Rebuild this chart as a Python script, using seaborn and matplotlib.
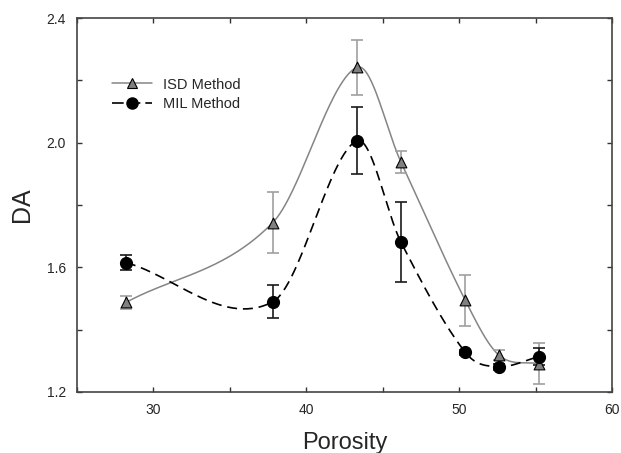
import numpy as np
import pandas as pd
import matplotlib
matplotlib.use("Agg")
import matplotlib.pyplot as plt
from matplotlib.ticker import MultipleLocator, FormatStrFormatter
import seaborn as sns

porosity = [28.2, 37.8, 43.3, 46.2, 50.4, 52.6, 55.2]
isd_da = [1.487, 1.743, 2.242, 1.937, 1.494, 1.318, 1.290]
isd_err = [0.020, 0.098, 0.088, 0.035, 0.082, 0.015, 0.066]
mil_da = [1.615, 1.489, 2.006, 1.680, 1.327, 1.281, 1.313]
mil_err = [0.023, 0.053, 0.108, 0.128, 0.008, 0.010, 0.027]


def smooth_curve(x, y, n=60):
    # cubic hermite through the points, catmull-rom style tangents
    x = np.asarray(x, float)
    y = np.asarray(y, float)
    m = np.empty_like(y)
    m[1:-1] = (y[2:] - y[:-2]) / (x[2:] - x[:-2])
    m[0] = (y[1] - y[0]) / (x[1] - x[0])
    m[-1] = (y[-1] - y[-2]) / (x[-1] - x[-2])
    xs, ys = [], []
    for i in range(len(x) - 1):
        h = x[i + 1] - x[i]
        t = np.linspace(0, 1, n)
        h00 = 2 * t**3 - 3 * t**2 + 1
        h10 = t**3 - 2 * t**2 + t
        h01 = -2 * t**3 + 3 * t**2
        h11 = t**3 - t**2
        xs.append(x[i] + t * h)
        ys.append(h00 * y[i] + h10 * h * m[i] + h01 * y[i + 1] + h11 * h * m[i + 1])
    return np.concatenate(xs), np.concatenate(ys)


sns.set_style("ticks")
plt.rcParams['font.family'] = ['Liberation Sans', 'DejaVu Sans']

fig = plt.figure(figsize=(6.21, 4.53), dpi=100)
ax = fig.add_axes([0.124, 0.135, 0.8615, 0.825])

xs, ys = smooth_curve(porosity, isd_da)
sx, sy = smooth_curve(porosity, mil_da)
isd_curve = pd.DataFrame({"x": xs, "y": ys})
mil_curve = pd.DataFrame({"x": sx, "y": sy})

sns.lineplot(data=isd_curve, x="x", y="y", ax=ax, color="#858585",
             linewidth=1.1, legend=False, sort=False)
sns.lineplot(data=mil_curve, x="x", y="y", ax=ax, color="black",
             linewidth=1.2, linestyle=(0, (6, 3.5)), legend=False, sort=False)

ax.errorbar(porosity, isd_da, yerr=isd_err, fmt="none", ecolor="#a0a0a0",
            elinewidth=1.2, capsize=4.5, capthick=1.2, zorder=3)
ax.errorbar(porosity, mil_da, yerr=mil_err, fmt="none", ecolor="#1a1a1a",
            elinewidth=1.2, capsize=4.5, capthick=1.2, zorder=3)

sns.scatterplot(x=porosity, y=isd_da, ax=ax, marker="^", s=60, color="#808080",
                edgecolor="black", linewidth=0.8, zorder=4)
sns.scatterplot(x=porosity, y=mil_da, ax=ax, marker="o", s=75, color="black",
                edgecolor="black", linewidth=0.8, zorder=4)

# legend handles
h1, = ax.plot([], [], color="#858585", linewidth=1.1, marker="^", markersize=7,
              markerfacecolor="#808080", markeredgecolor="black", markeredgewidth=0.8)
h2, = ax.plot([], [], color="black", linewidth=1.2, linestyle=(0, (7, 3)), marker="o",
              markersize=8, markerfacecolor="black", markeredgecolor="black")
ax.legend([h1, h2], ["ISD Method", "MIL Method"], loc="upper left",
          bbox_to_anchor=(0.04, 0.876), frameon=False, fontsize=10.5,
          handlelength=2.8, handletextpad=0.7, labelspacing=0.35)

ax.set_xlim(25, 60)
ax.set_ylim(1.2, 2.4)
ax.xaxis.set_major_locator(MultipleLocator(10))
ax.xaxis.set_minor_locator(MultipleLocator(5))
ax.yaxis.set_major_locator(MultipleLocator(0.4))
ax.yaxis.set_minor_locator(MultipleLocator(0.2))
ax.yaxis.set_major_formatter(FormatStrFormatter("%.1f"))
ax.tick_params(which="both", direction="in", top=True, right=True,
               color="#333333", width=1.0, labelsize=10, length=3.5)
ax.tick_params(which="major", pad=8)
for s in ax.spines.values():
    s.set_color("#444444")
    s.set_linewidth(1.2)

ax.set_xlabel("Porosity", fontsize=17, labelpad=11)
ax.set_ylabel("DA", fontsize=18, labelpad=9)

fig.savefig("out.png", dpi=100)
